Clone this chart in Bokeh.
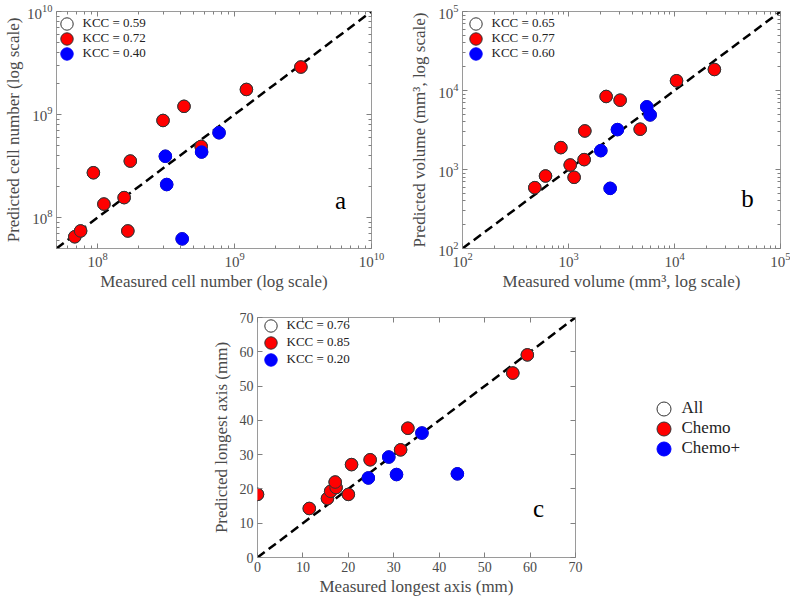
from bokeh.plotting import figure
from bokeh.layouts import row, column, Spacer
from bokeh.models import (Range1d, FixedTicker, LogAxis, LinearAxis, Legend,
                          LegendItem, Label)
from bokeh.embed import file_html
from bokeh.resources import INLINE

# ---------------- data ----------------
# Panel a: cell number
a_chemo_meas = [6.8e7, 7.5e7, 9.3e7, 1.11e8, 1.56e8, 1.73e8, 1.66e8, 3.0e8, 4.27e8, 5.7e8, 1.22e9, 3.05e9]
a_chemo_pred = [6.5e7, 7.4e7, 2.72e8, 1.35e8, 1.56e8, 3.53e8, 7.4e7, 8.75e8, 1.2e9, 4.9e8, 1.75e9, 2.89e9]
a_plus_meas = [3.12e8, 3.19e8, 4.14e8, 5.74e8, 7.7e8]
a_plus_pred = [3.93e8, 2.09e8, 6.2e7, 4.32e8, 6.65e8]
a_kcc = ["KCC = 0.59", "KCC = 0.72", "KCC = 0.40"]
a_limits = [5e7, 1e10]
a_ticks = [1e8, 1e9, 1e10]
a_xlabel = "Measured cell number (log scale)"
a_ylabel = "Predicted cell number (log scale)"

# Panel b: volume
b_chemo_meas = [481, 607, 847, 1038, 1130, 1405, 1426, 2266, 3070, 4745, 10450, 23800]
b_chemo_pred = [589, 828, 1893, 1140, 796, 1334, 3076, 8400, 7540, 3237, 13290, 18450]
b_plus_meas = [2018, 2472, 2896, 5480, 5890]
b_plus_pred = [1733, 577, 3200, 6207, 4910]
b_kcc = ["KCC = 0.65", "KCC = 0.77", "KCC = 0.60"]
b_limits = [1e2, 1e5]
b_ticks = [1e2, 1e3, 1e4, 1e5]
b_xlabel = "Measured volume (mm\u00b3, log scale)"
b_ylabel = "Predicted volume (mm\u00b3, log scale)"

# Panel c: longest axis
c_chemo_meas = [0.0, 11.4, 15.4, 16.1, 17.3, 17.1, 20.0, 20.7, 24.8, 31.5, 33.1, 56.2, 59.4]
c_chemo_pred = [18.4, 14.3, 17.2, 19.3, 20.4, 22.0, 18.4, 27.1, 28.5, 31.4, 37.7, 53.8, 59.1]
c_plus_meas = [24.4, 28.9, 30.6, 36.2, 44.0]
c_plus_pred = [23.2, 29.3, 24.2, 36.3, 24.4]
c_kcc = ["KCC = 0.76", "KCC = 0.85", "KCC = 0.20"]
c_limits = [0, 70]
c_ticks = [0, 10, 20, 30, 40, 50, 60, 70]
c_xlabel = "Measured longest axis (mm)"
c_ylabel = "Predicted longest axis (mm)"

groups = ["All", "Chemo", "Chemo+"]

# ---------------- style ----------------
FONT = "Liberation Serif"
RED = "#ff0000"
BLUE = "#0000ff"
EDGE = "#333333"
FRAME = "#9a9a9a"
TICKC = "#808080"
TXT = "#4a4a4a"
MSIZE = 12.5


def add_row_legends(p, labels, renderers, fh, cx, tops, gbox, font_size):
    """One single-item legend per row, placed relative to the frame."""
    for lab, r, top in zip(labels, renderers, tops):
        leg = Legend(items=[LegendItem(label=lab, renderers=[r])],
                     location=(cx - gbox / 2, fh - top - gbox / 2),
                     glyph_width=gbox, glyph_height=gbox,
                     spacing=0, padding=0, margin=0,
                     label_standoff=1, label_height=10,
                     label_text_font=FONT, label_text_font_size=font_size,
                     label_text_color="#222222",
                     inactive_fill_alpha=0,
                     background_fill_alpha=0, border_line_alpha=0)
        p.add_layout(leg)


def scatter_groups(p, cm, cp, pm, pp):
    r_all = p.scatter(x=cm + pm, y=cp + pp, size=MSIZE, fill_color="white",
                      line_color=EDGE, line_width=1)
    r_red = p.scatter(x=cm, y=cp, size=MSIZE, fill_color=RED,
                      line_color=EDGE, line_width=1)
    r_blue = p.scatter(x=pm, y=pp, size=MSIZE, fill_color=BLUE,
                       line_color=BLUE, line_width=1)
    return (r_all, r_red, r_blue)


def make_panel(letter, cm, cp, pm, pp, kcc, limits, ticks, xlabel, ylabel,
               log, width, height, bl, br, bt, bb, tick_size, leg_tops,
               leg_cx, letter_x, letter_y, ylab_standoff):
    axis_type = "log" if log else "linear"
    p = figure(width=width, height=height, output_backend="svg",
               toolbar_location=None, x_axis_type=axis_type,
               y_axis_type=axis_type,
               x_range=Range1d(limits[0], limits[1]),
               y_range=Range1d(limits[0], limits[1]),
               min_border_left=bl, min_border_right=br,
               min_border_top=bt, min_border_bottom=bb)
    fh = height - bt - bb
    p.grid.visible = False
    p.outline_line_color = FRAME
    p.outline_line_width = 1
    p.background_fill_color = "white"
    p.border_fill_color = "white"

    if log:
        lo = len(str(int(limits[0]))) - 2
        hi = len(str(int(limits[1]))) - 1
        minor = [m * 10 ** k for k in range(lo, hi) for m in range(2, 10)]
        ticker = FixedTicker(ticks=ticks, minor_ticks=minor)
    else:
        ticker = FixedTicker(ticks=ticks)

    # top/right box ticks
    AxisCls = LogAxis if log else LinearAxis
    p.add_layout(AxisCls(ticker=ticker), "above")
    p.add_layout(AxisCls(ticker=ticker), "right")

    for ax in p.axis:
        ax.ticker = ticker
        ax.axis_line_color = None
        ax.major_tick_in = 5
        ax.major_tick_out = 0
        ax.minor_tick_in = 3 if log else 0
        ax.minor_tick_out = 0
        ax.major_tick_line_color = TICKC
        ax.minor_tick_line_color = TICKC
        ax.major_label_text_font = FONT
        ax.major_label_text_font_size = tick_size
        ax.major_label_text_color = TXT
        ax.axis_label_text_font = FONT
        ax.axis_label_text_font_style = "normal"
        ax.axis_label_text_color = TXT
        ax.axis_label_text_font_size = "17px"
    for ax in (p.above[0], p.right[0]):
        ax.major_label_text_font_size = "1px"
        ax.major_label_text_alpha = 0
        ax.major_label_standoff = 0

    xa = p.below[0]
    ya = p.left[0]
    xa.axis_label = xlabel
    ya.axis_label = ylabel
    xa.major_label_standoff = 4
    ya.major_label_standoff = 4
    xa.axis_label_standoff = 2
    ya.axis_label_standoff = ylab_standoff

    # identity line
    p.line(x=limits, y=limits, line_color="black", line_width=2.5,
           line_dash="9 5")

    rends = scatter_groups(p, cm, cp, pm, pp)
    add_row_legends(p, kcc, rends, fh, leg_cx, leg_tops, 31, "13px")

    p.add_layout(Label(x=letter_x, y=letter_y, x_units="screen",
                       y_units="screen", text=letter, text_font=FONT,
                       text_font_size="25px", text_color="black",
                       text_align="center", text_baseline="middle"))
    return p


pa = make_panel("a", a_chemo_meas, a_chemo_pred, a_plus_meas, a_plus_pred,
                a_kcc, a_limits, a_ticks, a_xlabel, a_ylabel, True,
                390, 297, 53, 19, 11, 49, "15px", [12, 27, 42], 10,
                284, 48, 1)
pb = make_panel("b", b_chemo_meas, b_chemo_pred, b_plus_meas, b_plus_pred,
                b_kcc, b_limits, b_ticks, b_xlabel, b_ylabel, True,
                400, 297, 72, 10, 11, 49, "15px", [12, 27, 42], 13,
                285, 50, 6)
pc = make_panel("c", c_chemo_meas, c_chemo_pred, c_plus_meas,
                c_plus_pred, c_kcc, c_limits, c_ticks, c_xlabel,
                c_ylabel, False, 405, 302, 67, 20, 20, 42,
                "14px", [8, 25, 42], 13, 281, 49, 6)

# group legend (All / Chemo / Chemo+) in its own small canvas right of panel c
LEG_W, LEG_H = 195, 302
pl = figure(width=LEG_W, height=LEG_H, output_backend="svg",
            toolbar_location=None, x_axis_location=None, y_axis_location=None,
            x_range=Range1d(c_limits[0], c_limits[1]),
            y_range=Range1d(c_limits[0], c_limits[1]),
            min_border=0, outline_line_color=None)
pl.grid.visible = False
leg_rends = scatter_groups(pl, c_chemo_meas, c_chemo_pred, c_plus_meas, c_plus_pred)
for r in leg_rends:
    r.visible = False
add_row_legends(pl, groups, leg_rends, LEG_H, 68, [153, 173, 193], 35, "17px")

layout = column(row(pa, pb), row(Spacer(width=190, height=302), pc, pl))

open("out.html", "w").write(file_html(layout, INLINE))
